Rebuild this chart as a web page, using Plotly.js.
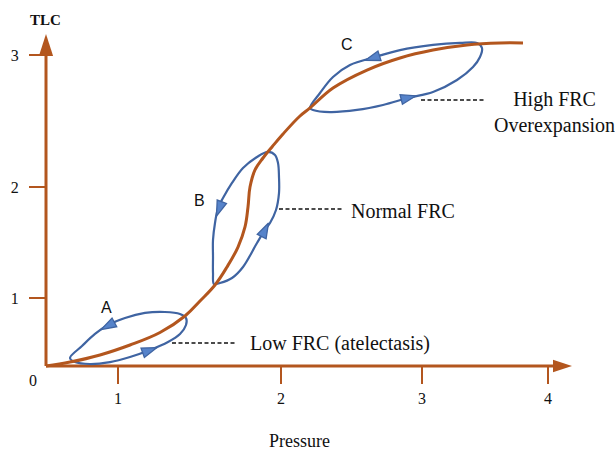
<!DOCTYPE html>
<html>
<head>
<meta charset="utf-8">
<script src="https://cdn.plot.ly/plotly-3.0.1.min.js"></script>
<style>html,body{margin:0;padding:0;background:#fff;}#chart{width:615px;height:450px;}</style>
</head>
<body>
<div id="chart"></div>
<script>
// Pressure-volume (brown) curve
const curveX = [0, 0.192, 0.432, 0.672, 0.912, 1.112, 1.232, 1.352, 1.448, 1.536, 1.592, 1.616, 1.632, 1.672, 1.736, 1.808, 1.896, 2.032, 2.112, 2.296, 2.568, 2.832, 3.096, 3.368, 3.632, 3.816];
const curveY = [0, 0.038, 0.106, 0.202, 0.322, 0.481, 0.625, 0.779, 0.952, 1.144, 1.337, 1.529, 1.721, 1.885, 2.0, 2.106, 2.231, 2.404, 2.481, 2.673, 2.846, 2.962, 3.038, 3.087, 3.106, 3.106];

// Hysteresis loops
const loopAX = [0.192, 0.232, 0.352, 0.512, 0.672, 0.832, 0.976, 1.072, 1.12, 1.12, 1.072, 0.952, 0.792, 0.632, 0.496, 0.392, 0.288, 0.192];
const loopAY = [0.077, 0.038, 0.019, 0.038, 0.087, 0.154, 0.231, 0.308, 0.394, 0.462, 0.5, 0.519, 0.51, 0.462, 0.394, 0.308, 0.192, 0.077];
const loopBX = [1.344, 1.392, 1.488, 1.576, 1.688, 1.752, 1.792, 1.84, 1.864, 1.864, 1.856, 1.832, 1.776, 1.688, 1.576, 1.488, 1.416, 1.376, 1.352, 1.336, 1.336, 1.336, 1.344];
const loopBY = [0.788, 0.798, 0.846, 0.952, 1.183, 1.308, 1.375, 1.5, 1.663, 1.817, 1.952, 2.029, 2.058, 2.01, 1.904, 1.76, 1.615, 1.519, 1.375, 1.212, 1.048, 0.894, 0.788];
const loopCX = [2.112, 2.136, 2.272, 2.488, 2.696, 2.896, 3.096, 3.288, 3.416, 3.472, 3.488, 3.448, 3.312, 3.096, 2.832, 2.632, 2.432, 2.296, 2.192, 2.112];
const loopCY = [2.481, 2.462, 2.442, 2.462, 2.51, 2.577, 2.635, 2.75, 2.875, 2.971, 3.058, 3.106, 3.106, 3.087, 3.038, 2.971, 2.894, 2.779, 2.625, 2.481];

// Arrowheads on loops: [previous point, tip]
const arrowTailX = [0.736, 0.568, 1.712, 1.424, 2.792, 2.712];
const arrowTailY = [0.111, 0.433, 1.212, 1.635, 2.548, 3.0];
const arrowTipX = [0.888, 0.44, 1.78, 1.364, 2.96, 2.552];
const arrowTipY = [0.177, 0.35, 1.375, 1.442, 2.598, 2.938];

// Leader lines
const leaderX0 = [1.008, 1.864, 3.0];
const leaderX1 = [1.512, 2.368, 3.512];
const leaderY = [0.221, 1.51, 2.558];

// Axes
const xTickVals = [0.576, 1.88, 3.008, 4.016];
const xTickText = ['1', '2', '3', '4'];
const yTickVals = [0.654, 1.721, 2.99];
const yTickText = ['1', '2', '3'];
const xAxisEnd = 4.056, xArrowTip = 4.208;
const yAxisEnd = 3.038, yArrowTip = 3.192;

const BROWN = '#B3561E';
const BLUE = '#3F64A2';
const BLUE_FILL = '#5683CA';
const SERIF = '"Liberation Serif", "Times New Roman", serif';
const SANS = '"Liberation Sans", Arial, sans-serif';

const traces = [];
// axis lines
traces.push({x: [0, xAxisEnd], y: [0, 0], mode: 'lines', line: {color: BROWN, width: 3}, hoverinfo: 'skip'});
traces.push({x: [0, 0], y: [0, yAxisEnd], mode: 'lines', line: {color: BROWN, width: 3}, hoverinfo: 'skip'});
traces.push({x: [xAxisEnd, xArrowTip], y: [0, 0], mode: 'markers', cliponaxis: false,
  marker: {symbol: 'arrow', angleref: 'previous', size: [0, 20], opacity: [0, 1], color: BROWN, line: {width: 0}}, hoverinfo: 'skip'});
traces.push({x: [0, 0], y: [yAxisEnd, yArrowTip], mode: 'markers', cliponaxis: false,
  marker: {symbol: 'arrow', angleref: 'previous', size: [0, 23], opacity: [0, 1], color: BROWN, line: {width: 0}}, hoverinfo: 'skip'});

// loops
[[loopAX, loopAY], [loopBX, loopBY], [loopCX, loopCY]].forEach(([lx, ly]) => {
  traces.push({x: lx, y: ly, mode: 'lines', line: {color: BLUE, width: 2.2, shape: 'spline', smoothing: 1}, hoverinfo: 'skip'});
});
// main curve
traces.push({x: curveX, y: curveY, mode: 'lines', line: {color: BROWN, width: 3, shape: 'spline', smoothing: 1.1}, hoverinfo: 'skip'});

// loop arrowheads
for (let i = 0; i < arrowTipX.length; i++) {
  traces.push({x: [arrowTailX[i], arrowTipX[i]], y: [arrowTailY[i], arrowTipY[i]], mode: 'markers',
    marker: {symbol: 'arrow', angleref: 'previous', size: [0, 16], opacity: [0, 1], color: BLUE_FILL, line: {color: BLUE, width: 1.3}}, hoverinfo: 'skip'});
}
// leaders
for (let i = 0; i < leaderY.length; i++) {
  traces.push({x: [leaderX0[i], leaderX1[i]], y: [leaderY[i], leaderY[i]], mode: 'lines',
    line: {color: '#111', width: 1.6, dash: '4px,2.5px'}, hoverinfo: 'skip'});
}

const annotations = [
  {x: 0.48, y: 0.558, text: 'A', font: {family: SANS, size: 16, color: '#111'}},
  {x: 1.224, y: 1.596, text: 'B', font: {family: SANS, size: 16, color: '#111'}},
  {x: 2.408, y: 3.096, text: 'C', font: {family: SANS, size: 16, color: '#111'}},
  {x: 1.616, y: 0.212, text: 'Low FRC (atelectasis)', xanchor: 'left', font: {family: SERIF, size: 20, color: '#111'}},
  {x: 2.424, y: 1.49, text: 'Normal FRC', xanchor: 'left', font: {family: SERIF, size: 20, color: '#111'}},
  {x: 4.064, y: 2.433, text: 'High FRC<br>Overexpansion', align: 'center', font: {family: SERIF, size: 20, color: '#111'}},
  {x: -0.008, y: 3.327, text: '<b>TLC</b>', font: {family: SERIF, size: 15, color: '#111'}},
  {x: 2.024, y: -0.72, text: 'Pressure', font: {family: SERIF, size: 18, color: '#111'}},
  {x: -0.104, y: -0.135, text: '0', font: {family: SERIF, size: 16, color: '#111'}}
].map(a => Object.assign({xref: 'x', yref: 'y', showarrow: false}, a));

const layout = {
  width: 615, height: 450,
  margin: {l: 0, r: 0, t: 0, b: 0},
  paper_bgcolor: '#fff', plot_bgcolor: '#fff',
  showlegend: false, hovermode: false,
  xaxis: {range: [-0.368, 4.552], showgrid: false, zeroline: false, showline: false,
    anchor: 'free', position: 84 / 450,
    tickmode: 'array', tickvals: xTickVals, ticktext: xTickText,
    ticks: 'outside', ticklen: 17, tickwidth: 2, tickcolor: BROWN, ticklabelstandoff: 1,
    tickfont: {family: SERIF, size: 16, color: '#111'}},
  yaxis: {range: [-0.8077, 3.5192], showgrid: false, zeroline: false, showline: false,
    anchor: 'free', position: 46 / 615,
    tickmode: 'array', tickvals: yTickVals, ticktext: yTickText,
    ticks: 'outside', ticklen: 17, tickwidth: 2, tickcolor: BROWN, ticklabelstandoff: 7,
    tickfont: {family: SERIF, size: 16, color: '#111'}},
  annotations: annotations
};

Plotly.newPlot('chart', traces, layout, {staticPlot: true, displayModeBar: false});
</script>
</body>
</html>
